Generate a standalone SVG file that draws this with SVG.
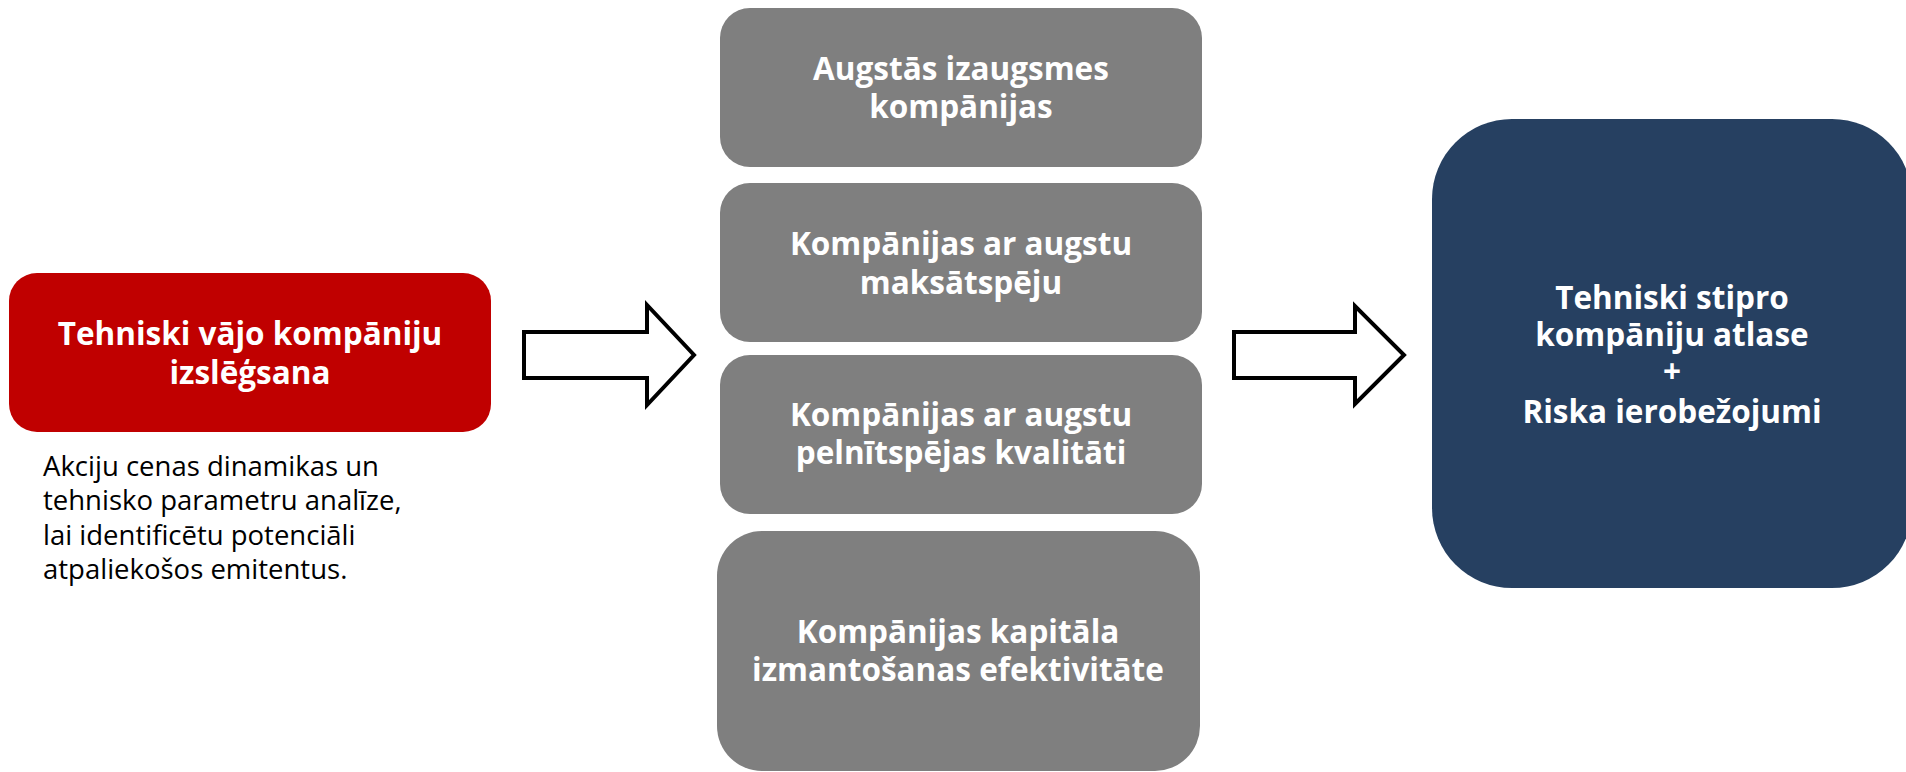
<svg xmlns="http://www.w3.org/2000/svg" width="1906" height="772" viewBox="0 0 1906 772">
<style>
.node text{font-family:"Open Sans","Noto Sans","Liberation Sans",sans-serif;font-weight:bold;font-size:31.5px;fill:#ffffff;text-anchor:middle}
.gray{fill:#7f7f7f}
.desc{font-family:"Open Sans","Noto Sans","Liberation Sans",sans-serif;font-size:27.5px;fill:#000000}
.arrow{fill:#ffffff;stroke:#000000;stroke-width:4;stroke-linejoin:miter}
</style>
<rect width="1906" height="772" fill="#ffffff"/>
<g id="connectors">
<polygon class="arrow" points="524,332 647,332 647,305 694,355 647,405 647,378 524,378"/>
<polygon class="arrow" points="1234,332 1355,332 1355,306 1404,355 1355,404 1355,378 1234,378"/>
</g>
<g id="node-exclusion" class="node">
<rect x="9" y="273" width="482" height="159" rx="28" fill="#c00000"/>
<text x="250" y="345">Tehniski vājo kompāniju</text>
<text x="250" y="384">izslēģsana</text>
</g>
<g id="desc-exclusion">
<text class="desc" x="43" y="476">Akciju cenas dinamikas un</text>
<text class="desc" x="43" y="510">tehnisko parametru analīze,</text>
<text class="desc" x="43" y="544.5">lai identificētu potenciāli</text>
<text class="desc" x="43" y="579">atpaliekošos emitentus.</text>
</g>
<g id="node-growth" class="node">
<rect class="gray" x="720" y="8" width="482" height="159" rx="30"/>
<text x="961" y="80">Augstās izaugsmes</text>
<text x="961" y="118">kompānijas</text>
</g>
<g id="node-solvency" class="node">
<rect class="gray" x="720" y="183" width="482" height="159" rx="30"/>
<text x="961" y="255">Kompānijas ar augstu</text>
<text x="961" y="294">maksātspēju</text>
</g>
<g id="node-earnings" class="node">
<rect class="gray" x="720" y="355" width="482" height="159" rx="30"/>
<text x="961" y="426">Kompānijas ar augstu</text>
<text x="961" y="464">pelnītspējas kvalitāti</text>
</g>
<g id="node-capital" class="node">
<rect class="gray" x="717" y="531" width="483" height="240" rx="45"/>
<text x="958" y="643">Kompānijas kapitāla</text>
<text x="958" y="681">izmantošanas efektivitāte</text>
</g>
<g id="node-result" class="node">
<rect x="1432" y="119" width="480" height="469" rx="80" fill="#264061"/>
<text x="1672" y="309">Tehniski stipro</text>
<text x="1672" y="346">kompāniju atlase</text>
<text x="1672" y="383">+</text>
<text x="1672" y="423">Riska ierobežojumi</text>
</g>
</svg>
